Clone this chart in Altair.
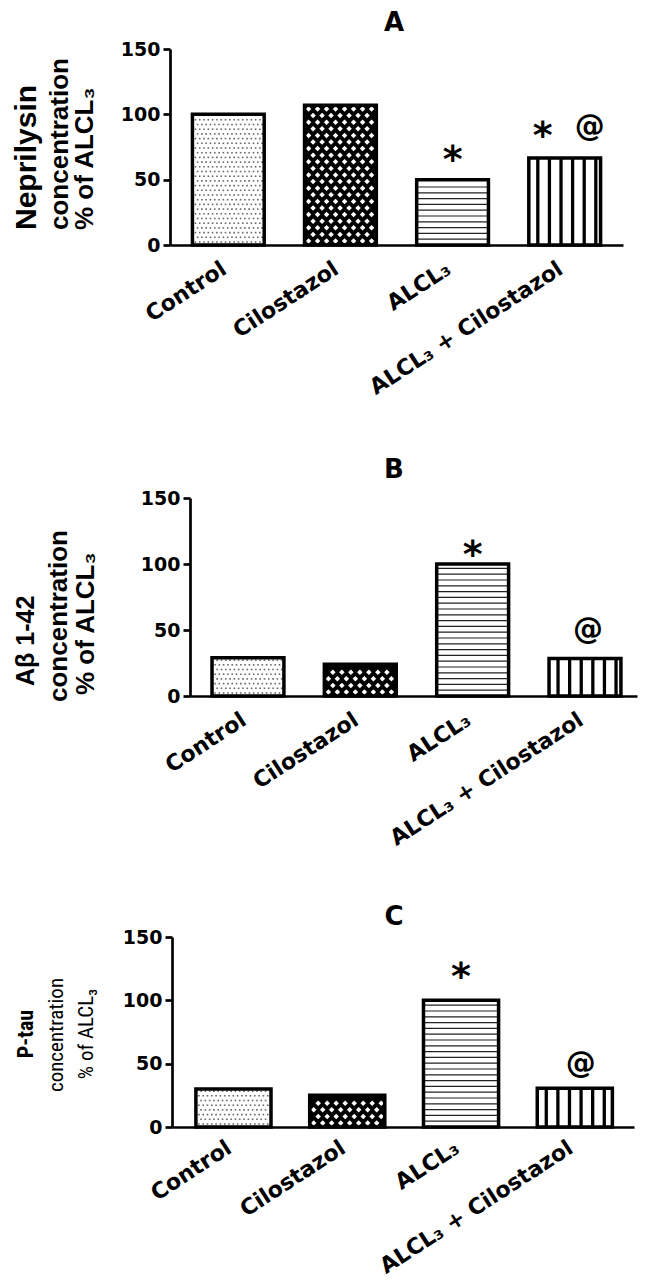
import altair as alt
import pandas as pd

# ---------------- data ----------------
categories = ["Control", "Cilostazol", "ALCL₃", "ALCL₃ + Cilostazol"]
patterns = ["dots", "hatch", "hlines", "vlines"]

neprilysin = [100, 107, 50, 66.5]
abeta = [29, 24, 100, 28.5]
ptau = [30, 25, 100, 30.5]

y_ticks = [0, 50, 100, 150]
panel_letters = ["A", "B", "C"]

titles_A = ["Neprilysin", "concentration", "% of  ALCL₃"]
titles_B = ["Aβ 1-42", "concentration", "% of  ALCL₃"]
titles_C = ["P-tau", "concentration", "% of ALCL₃"]

signif_A = [(2, "*"), (3, "*"), (3, "@")]
signif_B = [(2, "*"), (3, "@")]
signif_C = [(2, "*"), (3, "@")]

# ---------------- style / layout (page pixels) ----------------
ORIGIN_X = 170          # common left edge of every plot group
PAGE_L, PAGE_R = 8, 638
LAYOUT = {
    "A": dict(rng=(0, 453), top=49, height=196, xmin=-0.52, xmax=3.52, hw=0.32,
              yoff=0, box=(8, 440), letter=(394, 31), lpad=13),
    "B": dict(rng=(20, 467), top=498, height=198, xmin=-0.516, xmax=3.463, hw=0.32,
              yoff=-20, box=(440, 875), letter=(394, 478), lpad=13),
    "C": dict(rng=(2, 464), top=937, height=190, xmin=-0.54, xmax=3.52, hw=0.33,
              yoff=-2, box=(875, 1279), letter=(394, 925), lpad=10),
}
NARROW = "Liberation Sans Narrow, Roboto Condensed, DejaVu Sans Condensed, Liberation Sans"
# (font, weight, size, baseline x, anchor y, align)
TITLE_STYLE = {
    "A": [("Liberation Sans", "bold", 30, 36, 230, "left"),
          ("Liberation Sans", "bold", 26, 68, 230, "left"),
          ("Liberation Sans", "bold", 26, 93, 230, "left")],
    "B": [("Liberation Sans", "bold", 25, 34, 686, "left"),
          ("Liberation Sans", "bold", 26, 67, 702, "left"),
          ("Liberation Sans", "bold", 26, 94, 695, "left")],
    "C": [(NARROW, "bold", 22, 33, 1034, "center"),
          (NARROW, "normal", 21, 63, 1035, "center"),
          (NARROW, "normal", 21, 93, 1034, "center")],
}
# (dx px, dy px, font size)
SIGNIF_STYLE = {
    "A": [(0, -8, 38), (-22, -10, 38), (25, -22, 30)],
    "B": [(0, 3, 38), (3, -19, 30)],
    "C": [(0, -11, 38), (6, -15, 30)],
}
X_LABEL = dict(angle=-33, size=22, offset=-10)
DOT_SX, DOT_SY = 4.3, 4.7
HATCH_SX, HATCH_SY = 9.0, 6.6
HLINE_STEP = 5.8
VLINE_STEP, VLINE_START = 11.6, 9.0

FONT_B = "DejaVu Sans"


def fmt(v):
    return f"{v:.6f}"


def make_panel(key, values, titles, signif):
    L = LAYOUT[key]
    r0, r1 = L["rng"]
    H = L["height"]
    W = r1
    ux = (L["xmax"] - L["xmin"]) / (r1 - r0)
    uy = 150.0 / H
    hw = L["hw"]
    left, top = ORIGIN_X, L["top"]

    df = pd.DataFrame({"idx": list(range(len(categories))), "cat": categories,
                       "value": values, "pattern": patterns})

    xsc = alt.Scale(domain=[L["xmin"], L["xmax"]], range=[r0, r1], nice=False, zero=False)
    ysc = alt.Scale(domain=[0, 150], nice=False, zero=True)
    label_expr = "[" + ",".join("'" + c + "'" for c in categories) + "][datum.value]"
    xaxis = alt.Axis(values=[0, 1, 2, 3], labelExpr=label_expr, title=None, ticks=False,
                     tickSize=0, domainWidth=2.7, domainColor="black",
                     labelAngle=X_LABEL["angle"], labelAlign="right", labelBaseline="top",
                     labelPadding=L["lpad"], labelOffset=X_LABEL["offset"],
                     labelFont=FONT_B, labelFontWeight="bold",
                     labelFontSize=X_LABEL["size"], labelColor="black",
                     labelOverlap=False, labelBound=False, labelFlush=False,
                     labelLimit=500, grid=False)
    yaxis = alt.Axis(values=y_ticks, title=None, domainWidth=2.7, domainColor="black",
                     tickWidth=2.7, tickSize=7, tickColor="black", labelFont=FONT_B,
                     labelFontWeight="bold", labelFontSize=19, labelColor="black",
                     labelPadding=3, grid=False, labelFlush=False, offset=L["yoff"])

    def X(f):
        return alt.X(f, scale=xsc, axis=xaxis, title=None)

    def Y(f):
        return alt.Y(f, scale=ysc, axis=yaxis, title=None)

    base = alt.Chart(df).transform_calculate(
        x0=f"datum.idx - {hw}", x1=f"datum.idx + {hw}")

    by1, by2 = L["box"]
    anchor = alt.Chart(pd.DataFrame({"a": [0]})).mark_rect(opacity=0).encode(
        x=alt.value(PAGE_L - left), x2=alt.value(PAGE_R - left),
        y=alt.value(by1 - top), y2=alt.value(by2 - top))

    fill = base.mark_rect().encode(
        x=X("x0:Q"), x2="x1:Q", y=Y("value:Q"), y2=alt.datum(0),
        fill=alt.Fill("pattern:N", scale=alt.Scale(domain=patterns,
                                                   range=["white", "black", "white", "white"]),
                      legend=None))

    dots = base.transform_filter("datum.pattern == 'dots'").transform_calculate(
        yy=f"sequence({fmt(uy*3)}, datum.value - {fmt(uy*2)}, {fmt(uy*DOT_SY)})"
    ).transform_flatten(["yy"]).transform_calculate(
        row=f"round((datum.yy - {fmt(uy*3)}) / {fmt(uy*DOT_SY)})"
    ).transform_calculate(
        xx=f"sequence(datum.x0 + {fmt(ux*3)} + (datum.row % 2) * {fmt(ux*DOT_SX/2)}, datum.x1 - {fmt(ux*2)}, {fmt(ux*DOT_SX)})"
    ).transform_flatten(["xx"]).mark_square(size=2.5, color="#666666", opacity=1).encode(
        x=X("xx:Q"), y=Y("yy:Q"))

    hatch = base.transform_filter("datum.pattern == 'hatch'").transform_calculate(
        yy=f"sequence({fmt(uy*4)}, datum.value - {fmt(uy*2)}, {fmt(uy*HATCH_SY)})"
    ).transform_flatten(["yy"]).transform_calculate(
        row=f"round((datum.yy - {fmt(uy*4)}) / {fmt(uy*HATCH_SY)})"
    ).transform_calculate(
        xx=f"sequence(datum.x0 + {fmt(ux*4)} + (datum.row % 2) * {fmt(ux*HATCH_SX/2)}, datum.x1 - {fmt(ux*2)}, {fmt(ux*HATCH_SX)})"
    ).transform_flatten(["xx"]).mark_point(shape="diamond", filled=True, size=30,
                                             color="white", opacity=1).encode(
        x=X("xx:Q"), y=Y("yy:Q"))

    hl = base.transform_filter("datum.pattern == 'hlines'").transform_calculate(
        yy=f"sequence({fmt(uy*HLINE_STEP)}, datum.value - {fmt(uy*2.5)}, {fmt(uy*HLINE_STEP)})"
    ).transform_flatten(["yy"]).mark_rule(color="#222222", strokeWidth=1.2).encode(
        x=X("x0:Q"), x2="x1:Q", y=Y("yy:Q"))

    vl = base.transform_filter("datum.pattern == 'vlines'").transform_calculate(
        xx=f"sequence(datum.x0 + {fmt(ux*VLINE_START)}, datum.x1 - {fmt(ux*4)}, {fmt(ux*VLINE_STEP)})"
    ).transform_flatten(["xx"]).mark_rule(color="black", strokeWidth=3.3).encode(
        x=X("xx:Q"), y=Y("value:Q"), y2=alt.datum(0))

    border = base.mark_rect(fill="white", fillOpacity=0, stroke="black",
                            strokeWidth=3.5).encode(
        x=X("x0:Q"), x2="x1:Q", y=Y("value:Q"), y2=alt.datum(0))

    layers = [anchor, fill, dots, hatch, hl, vl, border]

    for (i, sym), (dx, dy, fs) in zip(signif, SIGNIF_STYLE[key]):
        sdf = pd.DataFrame({"idx": [i], "value": [values[i]], "sym": [sym]})
        layers.append(alt.Chart(sdf).mark_text(
            font=FONT_B, fontWeight="bold", fontSize=fs, color="black",
            align="center", baseline="alphabetic", dx=dx, dy=dy).encode(
            x=X("idx:Q"), y=Y("value:Q"), text="sym:N"))

    for line, (font, weight, fs, bx, ay, align) in zip(titles, TITLE_STYLE[key]):
        tdf = pd.DataFrame({"t": [line]})
        layers.append(alt.Chart(tdf).mark_text(
            font=font, fontWeight=weight, fontSize=fs, color="black", angle=270,
            align=align, baseline="alphabetic").encode(
            text="t:N", x=alt.value(bx - left), y=alt.value(ay - top)))

    lx, ly = L["letter"]
    ldf = pd.DataFrame({"t": [panel_letters["ABC".index(key)]]})
    layers.append(alt.Chart(ldf).mark_text(
        font=FONT_B, fontWeight="bold", fontSize=26, color="black", align="center",
        baseline="alphabetic").encode(text="t:N", x=alt.value(lx - left),
                                      y=alt.value(ly - top)))

    return alt.layer(*layers).properties(width=W, height=H)


pA = make_panel("A", neprilysin, titles_A, signif_A)
pB = make_panel("B", abeta, titles_B, signif_B)
pC = make_panel("C", ptau, titles_C, signif_C)

chart = alt.concat(pA, pB, pC, columns=1, spacing=0, align="none", bounds="full").properties(
    padding=0, background="white"
).configure_view(strokeWidth=0)

chart.save("out.html", embed_options={"renderer": "svg", "actions": False})
